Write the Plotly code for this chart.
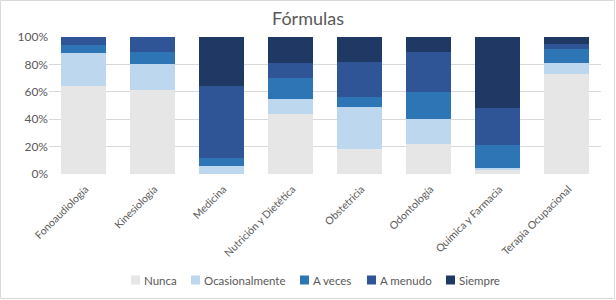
import plotly.graph_objects as go

categories = ["Fonoaudiología", "Kinesiología", "Medicina", "Nutrición y Dietética",
              "Obstetricia", "Odontología", "Química y Farmacia", "Terapia Ocupacional"]
nunca = [64, 61, 0, 44, 18, 22, 3.5, 73]
ocasionalmente = [24, 19, 6, 11, 31, 18, 1, 8]
a_veces = [6, 9, 6, 15, 7, 20, 16.5, 10]
a_menudo = [6, 11, 52, 11, 26, 29, 27, 4]
siempre = [0, 0, 36, 19, 18, 11, 52, 5]
y_ticks = [0, 0.2, 0.4, 0.6, 0.8, 1.0]

series = [
    ("Nunca", nunca, "#E7E6E6"),
    ("Ocasionalmente", ocasionalmente, "#BDD7EE"),
    ("A veces", a_veces, "#2E75B6"),
    ("A menudo", a_menudo, "#2F5597"),
    ("Siempre", siempre, "#203864"),
]

fig = go.Figure()
for name, vals, color in series:
    fig.add_trace(go.Bar(
        name=name, x=categories, y=[v / 100 for v in vals],
        marker=dict(color=color, line=dict(width=0)),
        showlegend=False,
    ))

font = "Lato, 'Open Sans', sans-serif"
L, R, T, B = 49, 15, 37, 126
W, H = 616, 300
pw, ph = W - L - R, H - T - B

fig.update_layout(
    width=W, height=H,
    barmode="stack", bargap=0.35,
    margin=dict(l=L, r=R, t=T, b=B, autoexpand=False),
    paper_bgcolor="white", plot_bgcolor="white",
    font=dict(family=font, color="#595959", size=11),
    title=dict(text="Fórmulas", x=0.5, xanchor="center", y=1 - 19 / H, yanchor="middle",
               font=dict(size=18, color="#595959", family=font)),
    xaxis=dict(tickangle=-45, showgrid=False, showline=False, ticks="",
               automargin=False, ticklabelstandoff=6, ticklabelshift=2,
               tickfont=dict(size=10.5, color="#595959")),
    yaxis=dict(range=[0, 1], tickvals=y_ticks, tickformat=".0%",
               showgrid=True, gridcolor="#D9D9D9", gridwidth=1, zeroline=False,
               automargin=False, ticks="", ticklen=0,
               tickfont=dict(size=12, color="#595959")),
    showlegend=False,
)

# manual legend (Excel-like): small squares followed by labels
legend_px = [131, 191, 300, 367, 446]
legend_y = (H - B - 280) / ph
for (name, vals, color), px in zip(series, legend_px):
    fig.add_shape(type="rect", xref="paper", yref="paper",
                  x0=(px - L) / pw, x1=(px + 9 - L) / pw,
                  y0=(H - B - 284.5) / ph, y1=(H - B - 275.5) / ph,
                  line=dict(width=0), fillcolor=color)
    fig.add_annotation(text=name, xref="paper", yref="paper",
                       x=(px + 11 - L) / pw, y=legend_y, xanchor="left", yanchor="middle",
                       showarrow=False, font=dict(size=11.5, color="#595959", family=font))

fig.add_shape(type="rect", xref="paper", yref="paper",
              x0=-(L - 0.5) / pw, x1=1 + (R - 1.5) / pw,
              y0=-(B - 1.5) / ph, y1=1 + (T - 0.5) / ph,
              line=dict(color="#D9D9D9", width=1), fillcolor="rgba(0,0,0,0)")

fig.write_html("out.html", config={"displayModeBar": False},
               post_script="document.body.style.margin='0';document.body.style.overflow='hidden';")
